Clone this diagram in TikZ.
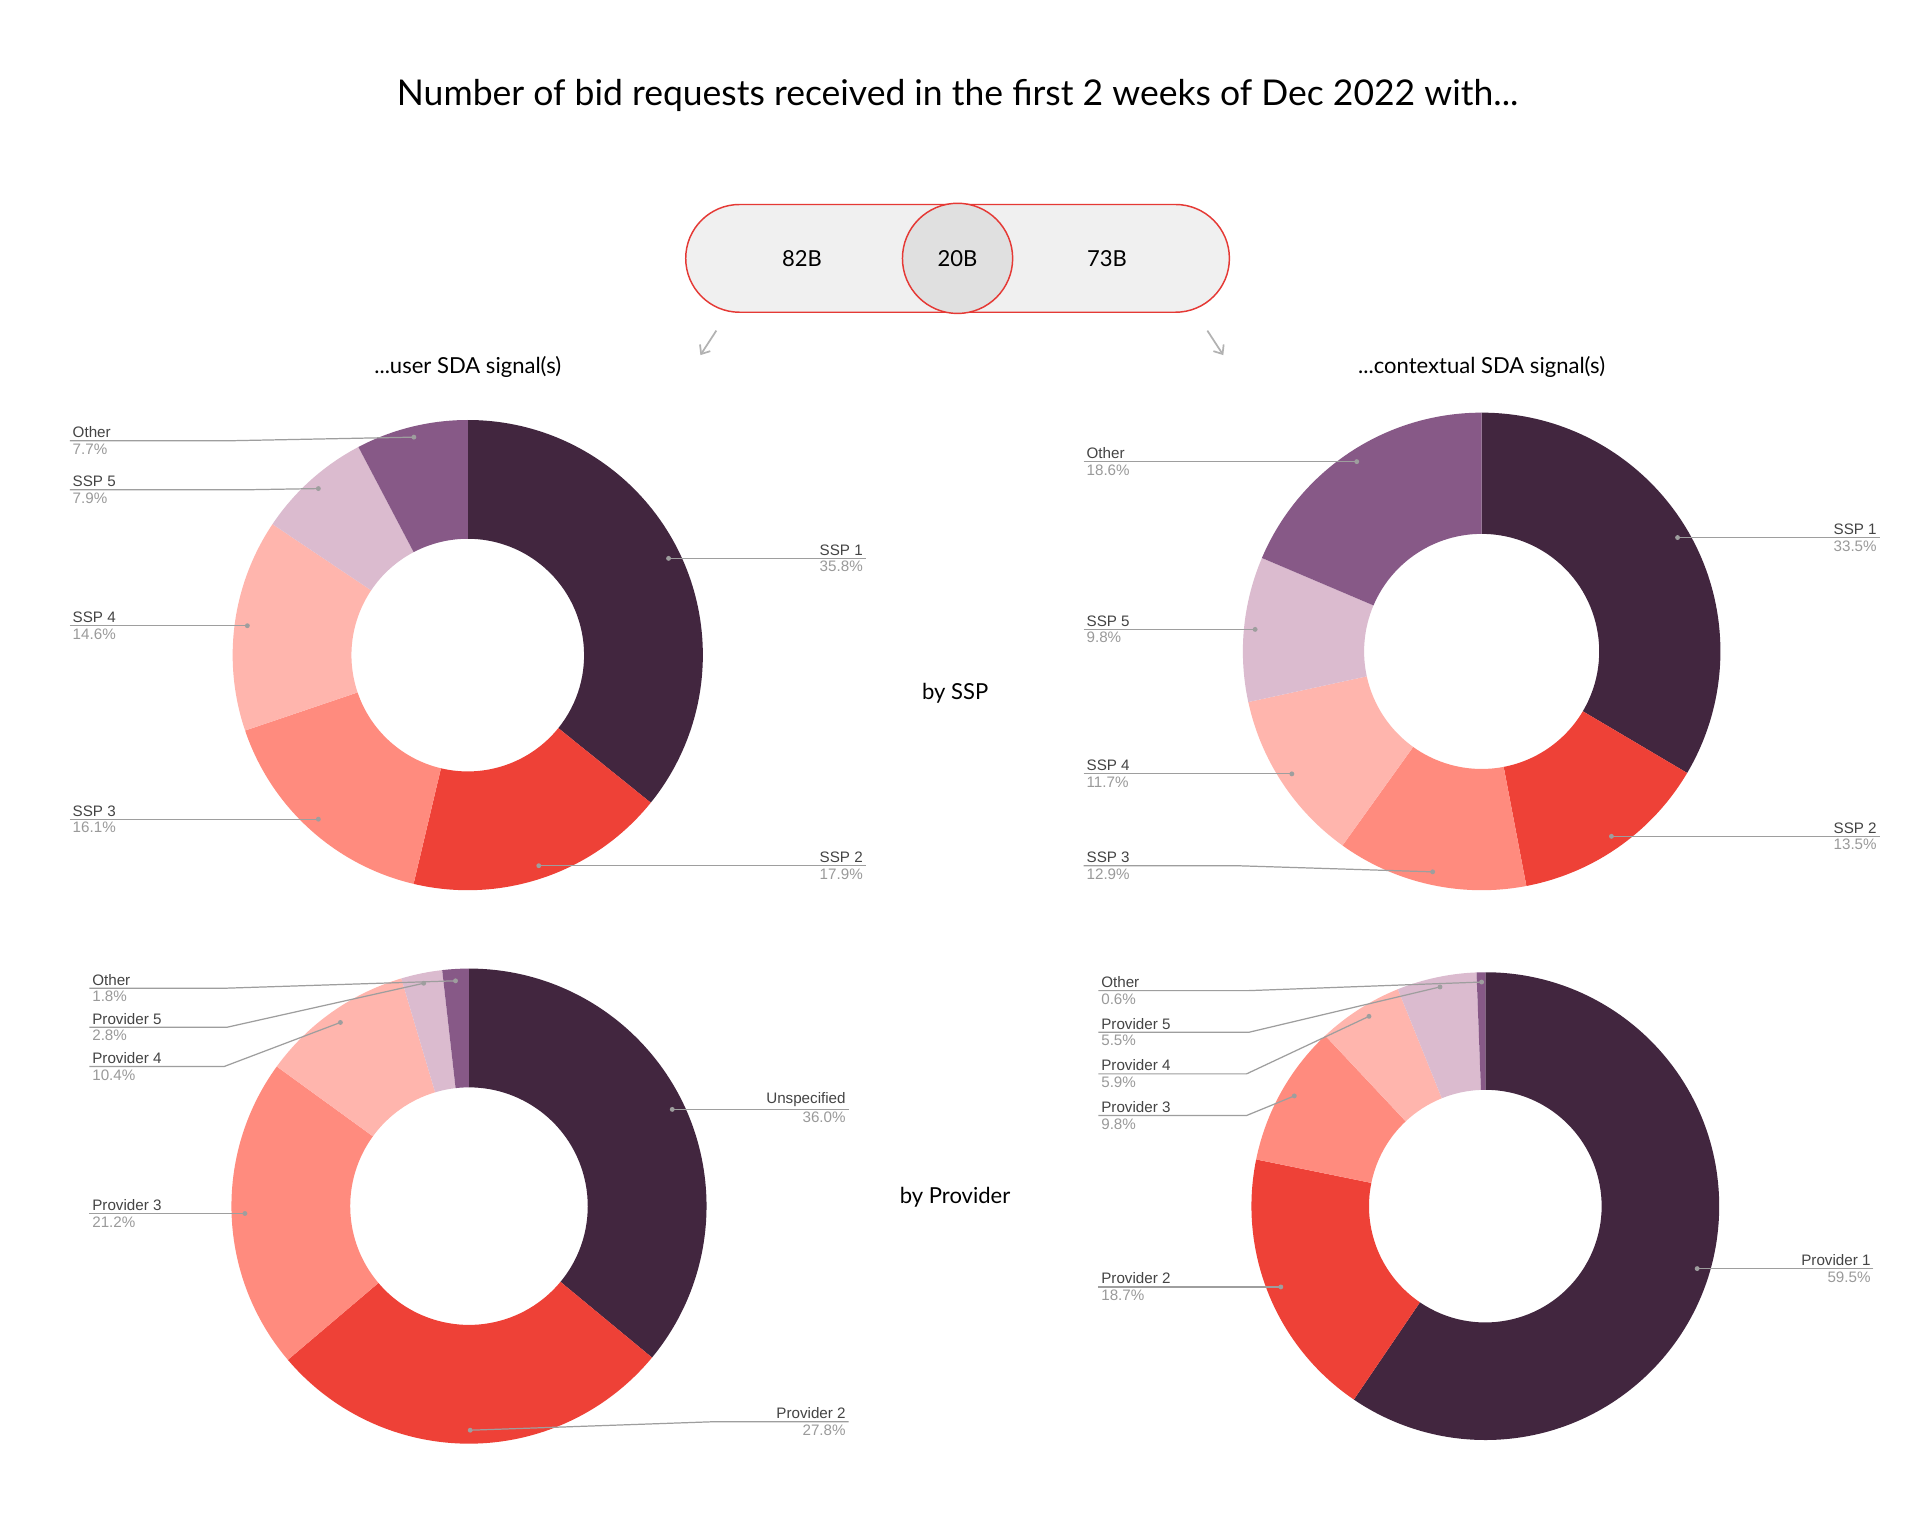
\documentclass[tikz,border=0pt]{standalone}
\usepackage{fontspec}
\setmainfont{Lato}
\newfontfamily\lblfont{Liberation Sans}
\usetikzlibrary{arrows.meta}
\definecolor{cA}{HTML}{42263F}
\definecolor{cB}{HTML}{EE4137}
\definecolor{cC}{HTML}{FF8B7E}
\definecolor{cD}{HTML}{FFB5AD}
\definecolor{cE}{HTML}{DBBBCF}
\definecolor{cF}{HTML}{875987}
\definecolor{lnc}{HTML}{9E9E9E}
\definecolor{pctc}{HTML}{9A9A9A}
\definecolor{namec}{HTML}{444444}
\definecolor{pillred}{HTML}{E53935}
\tikzset{
 lead/.style={draw=lnc,line width=0.5pt},
 nm/.style={font=\lblfont\fontsize{6.2}{7}\selectfont,text=namec,inner sep=1pt},
 pc/.style={font=\lblfont\fontsize{6.2}{7}\selectfont,text=pctc,inner sep=1pt},
 big/.style={font=\fontsize{9}{11}\selectfont,text=black},
}
\newcommand\mydonut[5]{%
 \xdef\acc{90}%
 \foreach \p/\c in {#5}{%
  \pgfmathsetmacro\e{\acc-\p*3.6}%
  \fill[\c] ([shift={(\acc:#3*0.5pt)}]#1,#2) arc[start angle=\acc,end angle=\e,radius=#3*0.5pt]
    -- ([shift={(\e:#4*0.5pt)}]#1,#2) arc[start angle=\e,end angle=\acc,radius=#4*0.5pt] -- cycle;
  \xdef\acc{\e}%
 }}
% left label: x, liney, bendx, dotx, doty, name, pct
\newcommand\lbll[7]{%
 \node[nm,anchor=south west] at (#1,-#2) {#6};
 \node[pc,anchor=north west] at (#1,-#2) {#7};
 \draw[lead] (#1,-#2) -- (#3,-#2) -- (#4,-#5);
 \fill[lnc] (#4,-#5) circle (1pt);}
\newcommand\lblr[7]{%
 \node[nm,anchor=south east] at (#1,-#2) {#6};
 \node[pc,anchor=north east] at (#1,-#2) {#7};
 \draw[lead] (#1,-#2) -- (#3,-#2) -- (#4,-#5);
 \fill[lnc] (#4,-#5) circle (1pt);}
\begin{document}
\begin{tikzpicture}[x=0.5pt,y=0.5pt]
\useasboundingbox[fill=white] (0,0) rectangle (1568,-1251);
\node[font=\fontsize{14.5}{17}\selectfont] (title) at (782,-78) {Number of bid requests received in the first 2 weeks of Dec 2022 with...};
% pill
\draw[pillred,fill=black!6,line width=0.6pt,rounded corners=22pt] (560,-167) rectangle (1004,-255);
\draw[pillred,fill=black!12,line width=0.6pt] (782,-211) circle (22.5pt);
\node[big] (n82) at (655,-211) {82B};
\node[big] (n20) at (782,-211) {20B};
\node[big] (n73) at (904,-211) {73B};
\draw[black!30,line width=0.7pt,-{Straight Barb[length=3pt,width=5pt]}] (585,-270) -- (572,-290);
\draw[black!30,line width=0.7pt,-{Straight Barb[length=3pt,width=5pt]}] (986,-270) -- (999,-290);
\node[big] (s1) at (382,-300) {...user SDA signal(s)};
\node[big] (s2) at (1210,-300) {...contextual SDA signal(s)};
\node[big] (b1) at (780,-566) {by SSP};
\node[big] (b2) at (780,-978) {by Provider};
% donuts
\mydonut{382}{-535}{192}{95}{35.8/cA,17.9/cB,16.1/cC,14.6/cD,7.9/cE,7.7/cF}
\mydonut{383}{-985}{194}{97}{36.0/cA,27.8/cB,21.2/cC,10.4/cD,2.8/cE,1.8/cF}
\mydonut{1210}{-532}{195}{96}{33.5/cA,13.5/cB,12.9/cC,11.7/cD,9.8/cE,18.6/cF}
\mydonut{1213}{-985}{191}{95}{59.5/cA,18.7/cB,9.8/cC,5.9/cD,5.5/cE,0.6/cF}
% TL labels
\lbll{57}{360}{185}{338}{357}{Other}{7.7\%}
\lbll{57}{400}{200}{260}{399}{SSP 5}{7.9\%}
\lbll{57}{511}{150}{202}{511}{SSP 4}{14.6\%}
\lbll{57}{669}{200}{260}{669}{SSP 3}{16.1\%}
\lblr{707}{456}{600}{546}{456}{SSP 1}{35.8\%}
\lblr{707}{707}{600}{440}{707}{SSP 2}{17.9\%}
% BL labels
\lbll{73}{807}{185}{372}{801}{Other}{1.8\%}
\lbll{73}{839}{185}{346}{803}{Provider 5}{2.8\%}
\lbll{73}{871}{183}{278}{835}{Provider 4}{10.4\%}
\lbll{73}{991}{150}{200}{991}{Provider 3}{21.2\%}
\lblr{693}{906}{600}{549}{906}{Unspecified}{36.0\%}
\lblr{693}{1161}{585}{384}{1168}{Provider 2}{27.8\%}
% TR labels
\lbll{885}{377}{1000}{1108}{377}{Other}{18.6\%}
\lbll{885}{514}{960}{1025}{514}{SSP 5}{9.8\%}
\lbll{885}{632}{980}{1055}{632}{SSP 4}{11.7\%}
\lbll{885}{707}{1010}{1170}{712}{SSP 3}{12.9\%}
\lblr{1535}{439}{1440}{1370}{439}{SSP 1}{33.5\%}
\lblr{1535}{683}{1400}{1316}{683}{SSP 2}{13.5\%}
% BR labels
\lbll{897}{809}{1020}{1210}{802}{Other}{0.6\%}
\lbll{897}{843}{1020}{1176}{806}{Provider 5}{5.5\%}
\lbll{897}{877}{1018}{1118}{830}{Provider 4}{5.9\%}
\lbll{897}{911}{1018}{1057}{895}{Provider 3}{9.8\%}
\lbll{897}{1051}{1000}{1046}{1051}{Provider 2}{18.7\%}
\lblr{1530}{1036}{1450}{1386}{1036}{Provider 1}{59.5\%}
\end{tikzpicture}
\end{document}
